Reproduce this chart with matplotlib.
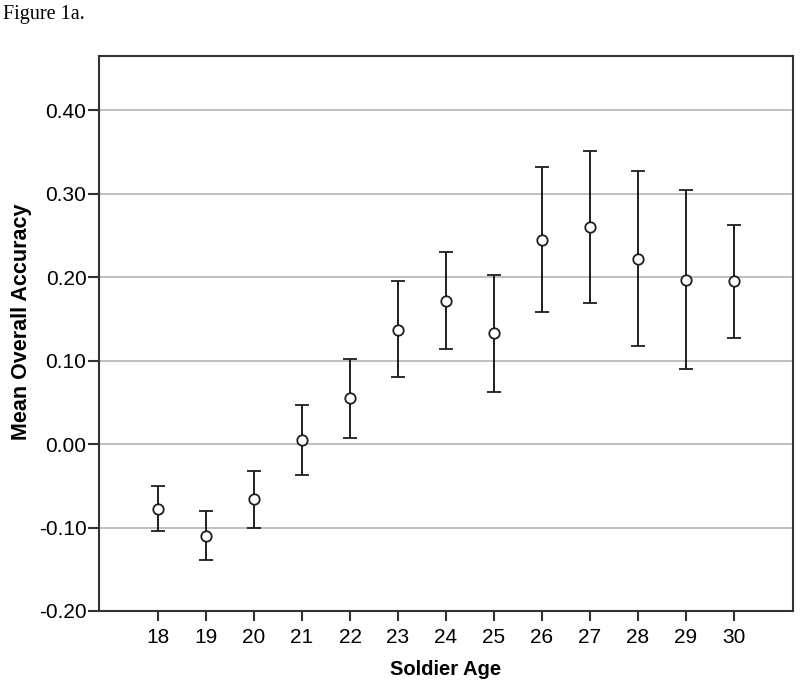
import matplotlib
matplotlib.use("Agg")
import matplotlib.pyplot as plt
import numpy as np

# Soldier age vs mean overall accuracy with error bars
ages = [18, 19, 20, 21, 22, 23, 24, 25, 26, 27, 28, 29, 30]
means = [-0.078, -0.110, -0.066, 0.005, 0.055, 0.137, 0.172, 0.133, 0.245, 0.260, 0.222, 0.197, 0.195]
upper = [-0.050, -0.080, -0.032, 0.047, 0.102, 0.195, 0.230, 0.202, 0.332, 0.351, 0.327, 0.304, 0.262]
lower = [-0.104, -0.139, -0.101, -0.037, 0.007, 0.080, 0.114, 0.063, 0.158, 0.169, 0.117, 0.090, 0.127]
yticks = [-0.20, -0.10, 0.00, 0.10, 0.20, 0.30, 0.40]

plt.rcParams['font.family'] = ['Liberation Sans', 'DejaVu Sans']

fig = plt.figure(figsize=(8, 6.85), dpi=100)
ax = fig.add_axes([99/800, 1 - 611/685, (793 - 99)/800, (611 - 56)/685])

means = np.array(means)
yerr = [means - np.array(lower), np.array(upper) - means]

ax.errorbar(ages, means, yerr=yerr, fmt='o', color='#1e1e1e', mfc='white', mec='#1e1e1e',
            ms=7.5, mew=1.3, elinewidth=1.4, capsize=5, capthick=1.4, zorder=3)

ax.set_xlim(16.77, 31.23)
ax.set_ylim(-0.20, 0.465)
ax.set_xticks(ages)
ax.set_yticks(yticks)
ax.set_yticklabels([f"{v:.2f}" for v in yticks])
ax.yaxis.grid(True, color='#b4b4b4', linewidth=1.2)
ax.set_axisbelow(True)

for s in ax.spines.values():
    s.set_color('#333333')
    s.set_linewidth(1.5)

ax.tick_params(axis='x', direction='out', length=7.5, width=1.5, color='#333333', labelsize=15, pad=5)
ax.tick_params(axis='y', direction='out', length=8, width=1.5, color='#333333', labelsize=15, pad=1)

ax.set_xlabel('Soldier Age', fontsize=14.5, fontweight='bold', labelpad=9)
ax.set_ylabel('Mean Overall Accuracy', fontsize=15.5, fontweight='bold', va='center', ha='center')
ax.yaxis.set_label_coords(-0.112, 0.521)

fig.text(3/800, 1 - 14/685, 'Figure 1a.', family=['Liberation Serif', 'DejaVu Serif'],
         fontsize=14.5, va='center', ha='left')

fig.savefig('out.png', dpi=100)
